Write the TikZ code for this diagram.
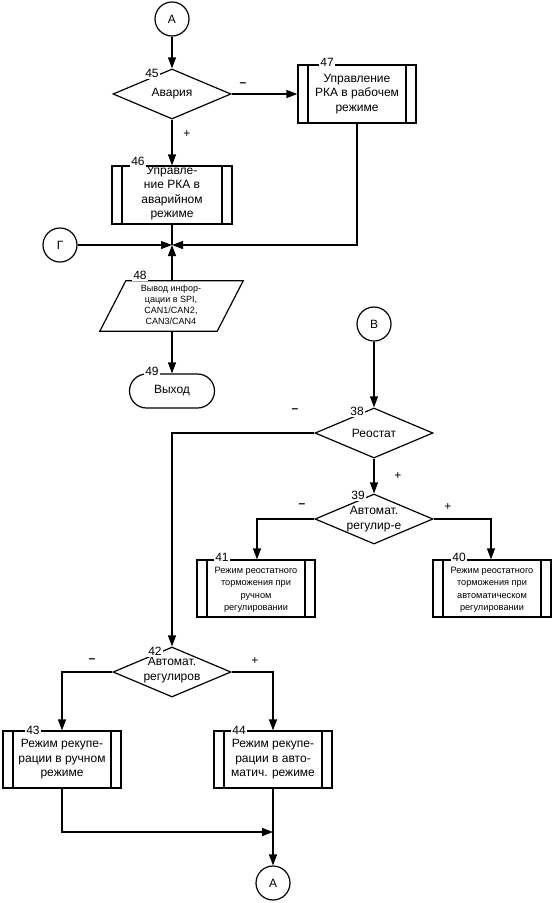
\documentclass[tikz,border=0pt]{standalone}
\usepackage{fontspec}
\setmainfont{Liberation Sans}
\usetikzlibrary{shapes.geometric,arrows.meta}
\tikzset{
  base/.style={line width=1.2pt},
  arr/.style={line width=1.2pt,-{Triangle[length=11pt,width=8pt]}},
  txt/.style={font=\fontsize{12}{14.5}\selectfont, align=center},
  smalltxt/.style={font=\fontsize{9.2}{12.5}\selectfont, align=center},
  tinytxt/.style={font=\fontsize{9}{11}\selectfont, align=center},
  conn/.style={draw, circle, line width=1.2pt, minimum size=34pt, inner sep=0pt, font=\fontsize{12}{14}\selectfont},
  dec/.style={draw, diamond, line width=1.2pt, minimum width=118pt, minimum height=50pt, inner sep=0pt},
  proc/.style={draw, rectangle, line width=1.2pt, minimum width=118pt, minimum height=57pt, inner sep=0pt,
    path picture={
      \draw[line width=1.2pt] ([xshift=10pt]path picture bounding box.north west) -- ([xshift=10pt]path picture bounding box.south west);
      \draw[line width=1.2pt] ([xshift=-10pt]path picture bounding box.north east) -- ([xshift=-10pt]path picture bounding box.south east);}},
  num/.style={fill=white, inner sep=1.5pt, font=\fontsize{12}{14}\selectfont},
  sign/.style={inner sep=0pt, font=\fontsize{12}{14}\selectfont},
  msign/.style={inner sep=0pt, font=\fontsize{12}{14}\selectfont\bfseries},
}
\begin{document}
\begin{tikzpicture}[x=1pt,y=-1pt]
\useasboundingbox (0,0) rectangle (554,903);

% top part
\node[conn] (ca1) at (172,19) {А};
\node[dec] (d45) at (172,94) {};
\node[txt] at (172,94) {Авария};
\node[proc, minimum width=118pt, minimum height=58pt] (b47) at (357,94) {};
\node[txt] at (357,94) {Управление\\РКА в рабочем\\режиме};
\node[proc, minimum width=120pt, minimum height=58pt] (b46) at (172,195) {};
\node[txt] at (172,193) {Управле-\\ние РКА в\\аварийном\\режиме};
\node[conn] (cg) at (60,245) {Г};
\coordinate (j1) at (172,245);
\node[minimum width=117pt, minimum height=50pt, inner sep=0pt] (p48) at (172,306) {};
\draw[base] ([xshift=12.5pt]p48.north west) -- ([xshift=12.5pt]p48.north east)
  -- ([xshift=-13.5pt]p48.south east) -- ([xshift=-13.5pt]p48.south west) -- cycle;
\node[tinytxt] at (171,305) {Вывод инфор-\\цации в SPI,\\CAN1/CAN2,\\CAN3/CAN4};
\node[draw, line width=1.2pt, rectangle, rounded corners=17pt, minimum width=85pt, minimum height=34pt, inner sep=0pt] (t49) at (172,391) {};
\node[txt] at (172,391) {Выход};

% right part
\node[conn] (cv) at (374,324) {В};
\node[dec] (d38) at (374,433) {};
\node[txt] at (374,433) {Реостат};
\node[dec] (d39) at (374,519) {};
\node[txt] at (374,519) {Автомат.\\регулир-е};
\node[proc] (b41) at (256,588.5) {};
\node[smalltxt] at (256,590) {Режим реостатного\\торможения при\\ручном\\регулировании};
\node[proc] (b40) at (492,588.5) {};
\node[smalltxt] at (492,590) {Режим реостатного\\торможения при\\автоматическом\\регулировании};

% bottom part
\node[dec] (d42) at (172,672) {};
\node[txt] at (172,670) {Автомат.\\регулиров};
\node[proc] (b43) at (62,759.5) {};
\node[txt] at (62,759.5) {Режим рекупе-\\рации в ручном\\режиме};
\node[proc] (b44) at (273,759.5) {};
\node[txt] at (273,759.5) {Режим рекупе-\\рации в авто-\\матич. режиме};
\coordinate (j2) at (273,832);
\node[conn] (ca2) at (273,883) {А};

% connectors
\draw[arr] (ca1) -- (d45.north);
\draw[arr] (d45.east) -- (b47.west);
\draw[arr] (d45.south) -- (b46.north);
\draw[base] (b46.south) -- (j1);
\draw[arr] (b47.south) |- (j1);
\draw[arr] (cg) -- (j1);
\draw[arr] (p48.north) -- (j1);
\draw[arr] (p48.south) -- (t49.north);
\draw[arr] (cv) -- (d38.north);
\draw[arr] (d38.west) -| (d42.north);
\draw[arr] (d38.south) -- (d39.north);
\draw[arr] (d39.west) -| ([xshift=1pt]b41.north);
\draw[arr] (d39.east) -| ([xshift=-1pt]b40.north);
\draw[arr] (d42.west) -| (b43.north);
\draw[arr] (d42.east) -| (b44.north);
\draw[arr] (b43.south) |- (j2);
\draw[base] (b44.south) -- (j2);
\draw[arr] (j2) -- (ca2);

% numbers
\node[num] at (152,73) {45};
\node[num] at (327,62) {47};
\node[num] at (138,161) {46};
\node[num] at (140,275) {48};
\node[num] at (152,371) {49};
\node[num] at (357,411) {38};
\node[num] at (358,495) {39};
\node[num] at (222,557) {41};
\node[num] at (459,557) {40};
\node[num] at (155,651) {42};
\node[num] at (33,730) {43};
\node[num] at (239,730) {44};

% signs
\node[msign] at (243,85) {–};
\node[sign] at (187,134) {+};
\node[msign] at (295,411) {–};
\node[sign] at (398,476) {+};
\node[msign] at (302,506) {–};
\node[sign] at (448,507) {+};
\node[msign] at (92,661) {–};
\node[sign] at (255,661) {+};
\end{tikzpicture}
\end{document}
